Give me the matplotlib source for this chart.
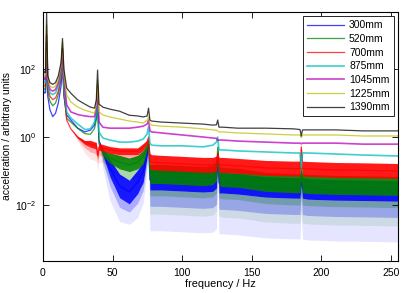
import numpy as np
import matplotlib
matplotlib.use("Agg")
import matplotlib.pyplot as plt

freq = [0, 1, 1.8, 2.6, 3.4, 5, 7, 9, 11, 13, 14, 15, 17, 20, 25, 30, 34, 37,
        38.3, 39.2, 40.2, 43, 48, 55, 62, 68, 72, 74.8, 75.8, 76.8, 78, 85,
        100, 115, 122, 124.6, 125.5, 126.4, 129, 140, 160, 180, 184.6, 185.5,
        186.4, 190, 210, 230, 256]

# log10 of the acceleration spectrum, one list per sensor distance
log_300 = [1.4, 1.3, 1.3, 2.2, 1.2, 0.8, 0.6, 0.7, 1.0, 1.5, 2.2, 1.2, 0.65, 0.5,
           0.26, 0.15, 0.2, 0.35, 0.6, 1.09, -0.1, -0.44, -0.91, -1.44, -1.62,
           -1.32, -1.03, -0.44, -0.2, -1.26, -1.26, -1.26, -1.29, -1.32, -1.3,
           -1.2, -0.5, -1.35, -1.35, -1.38, -1.47, -1.5, -1.5, -1.2, -1.5,
           -1.53, -1.56, -1.57, -1.59]
log_520 = [1.5, 1.4, 1.4, 2.4, 1.35, 1.05, 0.92, 1.0, 1.25, 1.7, 2.3, 1.3, 0.55,
           0.44, 0.25, 0.1, 0.08, 0.25, 0.5, 0.94, -0.2, -0.47, -0.62, -0.74,
           -0.82, -0.74, -0.59, -0.29, -0.1, -1.1, -1.09, -1.09, -1.12, -1.15,
           -1.12, -1.0, -0.3, -1.15, -1.18, -1.2, -1.32, -1.36, -1.36, -1.0,
           -1.36, -1.38, -1.41, -1.42, -1.44]
log_700 = [1.6, 1.5, 1.5, 2.6, 1.45, 1.2, 1.1, 1.15, 1.35, 1.8, 2.4, 1.4, 0.5,
           0.24, -0.01, -0.16, -0.2, -0.24, -0.26, -0.55, -0.29, -0.32, -0.38,
           -0.42, -0.42, -0.42, -0.29, -0.15, 0.0, -0.7, -0.74, -0.76, -0.79,
           -0.82, -0.82, -0.78, -0.5, -0.82, -0.82, -0.85, -0.91, -0.93, -0.93,
           -0.3, -0.93, -0.94, -0.97, -0.98, -1.0]
log_875 = [1.7, 1.6, 1.6, 2.8, 1.55, 1.3, 1.25, 1.3, 1.5, 1.9, 2.5, 1.5, 0.74,
           0.56, 0.38, 0.22, 0.24, 0.44, 0.74, 1.24, 0.15, -0.03, -0.09, -0.15,
           -0.15, -0.12, -0.06, 0.09, 0.3, -0.18, -0.24, -0.26, -0.26, -0.29,
           -0.24, -0.15, 0.0, -0.38, -0.38, -0.41, -0.44, -0.47, -0.47, -0.9,
           -0.47, -0.47, -0.5, -0.53, -0.56]
log_1045 = [1.8, 1.7, 1.7, 3.0, 1.65, 1.4, 1.35, 1.4, 1.6, 2.0, 2.6, 1.7, 0.95,
            0.74, 0.66, 0.62, 0.6, 0.6, 0.85, 1.53, 0.44, 0.29, 0.26, 0.26, 0.26,
            0.29, 0.32, 0.38, 0.5, 0.18, 0.15, 0.12, 0.06, 0.0, -0.03, -0.04,
            -0.1, -0.09, -0.09, -0.12, -0.15, -0.18, -0.18, -0.2, -0.18, -0.18,
            -0.18, -0.21, -0.21]
log_1225 = [1.9, 1.8, 1.8, 3.3, 1.75, 1.5, 1.45, 1.5, 1.7, 2.1, 2.8, 1.85, 1.24,
            1.03, 0.88, 0.79, 0.74, 0.7, 0.94, 1.68, 0.74, 0.65, 0.59, 0.53,
            0.47, 0.44, 0.41, 0.5, 0.6, 0.38, 0.35, 0.32, 0.29, 0.24, 0.21, 0.2,
            0.18, 0.15, 0.15, 0.12, 0.09, 0.06, 0.06, -0.02, 0.06, 0.06, 0.06,
            0.03, 0.03]
log_1390 = [2.0, 1.9, 1.9, 3.65, 1.8, 1.6, 1.55, 1.6, 1.8, 2.2, 2.9, 2.0, 1.44,
            1.29, 1.09, 0.97, 0.88, 0.85, 1.09, 1.97, 0.97, 0.88, 0.82, 0.76,
            0.64, 0.62, 0.59, 0.62, 0.85, 0.5, 0.47, 0.44, 0.41, 0.38, 0.35,
            0.36, 0.5, 0.29, 0.29, 0.26, 0.26, 0.24, 0.22, 0.03, 0.21, 0.21,
            0.21, 0.18, 0.18]

# half width of the dense noise band (decades) and depth of the downward spikes
noise_300 = [0] * 21 + [0.1, 0.25, 0.35, 0.35, 0.35, 0.3, 0.15, 0.05] + \
            [0.3] * 7 + [0.1] + [0.3] * 6 + [0.2] + [0.3] * 5
spike_300 = [0] * 21 + [0.4, 0.7, 0.7, 0.6, 0.7, 0.6, 0.4, 0.1] + \
            [1.2] * 7 + [0.5] + [1.2] * 6 + [0.8] + [1.2] * 5
noise_520 = [0] * 21 + [0.08, 0.15, 0.2, 0.2, 0.2, 0.2, 0.1, 0.05] + \
            [0.28] * 7 + [0.1] + [0.28] * 12
spike_520 = [0] * 21 + [0.3, 0.5, 0.6, 0.6, 0.6, 0.6, 0.3, 0.1] + \
            [0.9] * 7 + [0.4] + [0.9] * 12
noise_700 = [0] * 14 + [0.03, 0.06] + [0.1] * 11 + [0.06, 0.03] + \
            [0.22] * 7 + [0.1] + [0.22] * 6 + [0.1] + [0.22] * 5
spike_700 = [0] * 14 + [0.1, 0.25] + [0.35] * 11 + [0.2, 0.05] + [0.4] * 20

labels = ['300mm', '520mm', '700mm', '875mm', '1045mm', '1225mm', '1390mm']
series = [log_300, log_520, log_700, log_875, log_1045, log_1225, log_1390]
colors = ['#0000ff', '#008000', '#ff0000', '#00bfbf', '#bf00bf', '#bfbf00', '#000000']
noise = {0: (noise_300, spike_300), 1: (noise_520, spike_520), 2: (noise_700, spike_700)}

plt.rcParams['font.family'] = ['Liberation Sans', 'DejaVu Sans']
plt.rcParams['font.size'] = 7

fig = plt.figure(figsize=(4.07, 2.93), dpi=100)
ax = fig.add_axes([43 / 407, 1 - 261 / 293, 355 / 407, 249 / 293])

f = np.array(freq)
for i, (vals, col, lab) in enumerate(zip(series, colors, labels)):
    c = np.array(vals)
    z = 2 + i
    if i in noise:
        w = np.array(noise[i][0])
        d = np.array(noise[i][1])
        # sparse downward spikes: pale, under everything, denser near the band
        ax.fill_between(f, 10 ** (c - w - d), 10 ** (c - w), color=col, alpha=0.1,
                        lw=0, zorder=1)
        ax.fill_between(f, 10 ** (c - w - 0.4 * d), 10 ** (c - w), color=col,
                        alpha=0.25, lw=0, zorder=1)
        ax.fill_between(f, 10 ** (c - w), 10 ** (c + w), color=col, alpha=0.9,
                        lw=0, zorder=z)
    lw = 1.2 if i in (3, 4) else 0.9
    ax.plot(f, 10 ** c, color=col, lw=lw, alpha=0.75, label=lab, zorder=z)

ax.set_yscale('log')
ax.set_xlim(0, 255)
ax.set_ylim(10 ** -3.65, 10 ** 3.68)
ax.set_yticks([1e-2, 1, 1e2])
ax.yaxis.set_minor_locator(matplotlib.ticker.NullLocator())
ax.set_xticks([0, 50, 100, 150, 200, 250])
ax.tick_params(direction='in', length=4, width=0.6, top=True, right=True,
               labelsize=7.5, pad=5)
for s in ax.spines.values():
    s.set_linewidth(0.8)
    s.set_zorder(20)

ax.set_xlabel('frequency / Hz', fontsize=7.8, labelpad=1)
ax.set_ylabel('acceleration / arbitrary units', fontsize=7.5, labelpad=2)

leg = ax.legend(loc='upper right', fontsize=7.5, fancybox=False, framealpha=1,
                edgecolor='black', borderaxespad=0.4, handlelength=3.5,
                labelspacing=0.35, borderpad=0.4, handletextpad=0.5)
leg.get_frame().set_linewidth(0.6)
leg.set_zorder(30)

fig.savefig('out.png', dpi=100)
